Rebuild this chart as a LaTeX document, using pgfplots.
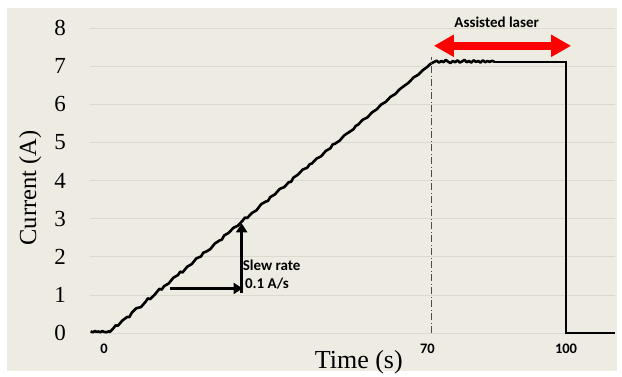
\documentclass[border=0pt]{standalone}
\usepackage{fontspec}
\setmainfont{Liberation Serif}
\newfontfamily\carl{Carlito}
\usepackage{pgfplots}
\pgfplotsset{compat=1.18}
\usetikzlibrary{arrows.meta}
\definecolor{bgbeige}{HTML}{EEEBE2}
\definecolor{gridc}{HTML}{DCD9D0}
\begin{document}
\begin{tikzpicture}
\fill[white] (-90pt,-43pt) rectangle (532pt,333pt);
\path[use as bounding box] (-90pt,-43pt) rectangle (532pt,333pt);
\fill[bgbeige] (-83pt,-38pt) rectangle (527pt,325pt);
\begin{axis}[
 at={(0,0)}, anchor=south west,
 scale only axis, width=525pt, height=304.7pt,
 xmin=-3.03, xmax=110.6, ymin=0, ymax=8,
 axis line style={draw=none},
 major tick style={draw=none},
 ytick={0,1,2,3,4,5,6,7,8}, xtick={0,70,100},
 ymajorgrids, major grid style={gridc, line width=0.8pt},
 /pgf/number format/assume math mode=true,
 yticklabel style={font=\fontsize{23}{25}\selectfont, anchor=east, inner sep=0pt, xshift=-24pt},
 xticklabel style={font=\carl\bfseries\fontsize{14.5}{16}\selectfont, anchor=north, inner sep=0pt, yshift=-11pt},
 xlabel={Time (s)}, ylabel={Current (A)},
 xlabel style={font=\fontsize{26}{28}\selectfont, at={(axis description cs:0.512,-0.097)}, anchor=center},
 ylabel style={font=\fontsize{24.5}{26}\selectfont, at={(axis description cs:-0.114,0.476)}, anchor=center},
 clip=false,
]
% ramp with noise
\addplot[black, line width=2.6pt, line join=round] coordinates {
(-2.9,0.04) (-2.4,0.02) (-2.0,0.05) (-1.6,0.03) (-1.2,0.04) (-0.8,0.02) (-0.4,0.05) (0.0,0.03) (0.5,0.02) (1.0,0.04) (1.3,0.03)
(2,0.12) (2.5,0.20) (3,0.19) (4,0.33) (5,0.42) (5.5,0.42) (6,0.53) (7,0.65) (8,0.68) (9,0.82) (9.5,0.91) (10,0.89)
(11,1.01) (12,1.16) (12.5,1.14) (13,1.23) (14,1.30) (15,1.45) (16,1.52) (16.5,1.61) (17,1.59) (18,1.74) (19,1.81) (20,1.96)
(21,2.01) (21.5,2.11) (22,2.13) (23,2.20) (24,2.35) (25,2.43) (25.5,2.45) (26,2.56) (27,2.63) (28,2.76) (29,2.82) (30,2.95)
(30.5,3.03) (31,3.02) (32,3.15) (33,3.22) (34,3.38) (35,3.45) (35.5,3.47) (36,3.57) (37,3.64) (38,3.78) (39,3.83) (40,3.96)
(40.5,3.97) (41,4.08) (42,4.16) (43,4.29) (44,4.34) (44.5,4.43) (45,4.45) (46,4.58) (47,4.64) (48,4.78) (49,4.85) (49.5,4.95) (50,4.97)
(51,5.05) (52,5.19) (53,5.27) (54,5.35) (54.5,5.44) (55,5.47) (56,5.60) (57,5.66) (58,5.79) (59,5.87) (60,6.00)
(61,6.07) (62,6.20) (63,6.27) (64,6.40) (65,6.49) (66,6.58) (67,6.71) (68,6.78) (69,6.90) (70,6.99)
(70.5,7.05) (71,7.09) (71.5,7.12)
(72,7.15) (72.5,7.10) (73,7.14) (73.5,7.11) (74,7.17) (74.5,7.12) (75,7.09) (75.5,7.14) (76,7.11) (76.5,7.16)
(77,7.10) (77.5,7.13) (78,7.17) (78.5,7.11) (79,7.14) (79.5,7.10) (80,7.16) (80.5,7.12) (81,7.14) (81.5,7.10)
(82,7.16) (82.5,7.11) (83,7.14) (83.5,7.12) (84,7.15) (84.5,7.12)
};
% clean plateau and drop
\addplot[black, line width=1.6pt] coordinates {(84.5,7.12) (100,7.12) (100,0) (110.6,0)};
% dash-dot marker at 70 s
\addplot[black!70, line width=1pt, dash pattern=on 7pt off 2.5pt on 1pt off 2.5pt] coordinates {(70.9,0) (70.9,7.25)};
% red double arrow
\draw[red, line width=8pt, {Triangle[width=21pt,length=20pt]}-{Triangle[width=21pt,length=20pt]}] (axis cs:71.4,7.54) -- (axis cs:101.1,7.54);
\node[anchor=base, inner sep=0pt, font=\carl\bfseries\fontsize{15}{17}\selectfont] at (axis cs:85.0,8.03) {Assisted laser};
% slew rate triangle
\draw[black, line width=3pt, -{Triangle[width=11pt,length=9pt]}] (axis cs:14.3,1.17) -- (axis cs:30.0,1.17);
\draw[black, line width=3pt, -{Triangle[width=11pt,length=9pt]}] (axis cs:29.8,1.05) -- (axis cs:29.8,2.88);
\node[anchor=west, inner sep=0pt, font=\carl\bfseries\fontsize{15}{17}\selectfont] at (axis cs:30.0,1.78) {Slew rate};
\node[anchor=west, inner sep=0pt, font=\carl\bfseries\fontsize{15}{17}\selectfont] at (axis cs:30.5,1.31) {0.1 A/s};
\end{axis}
\end{tikzpicture}
\end{document}
